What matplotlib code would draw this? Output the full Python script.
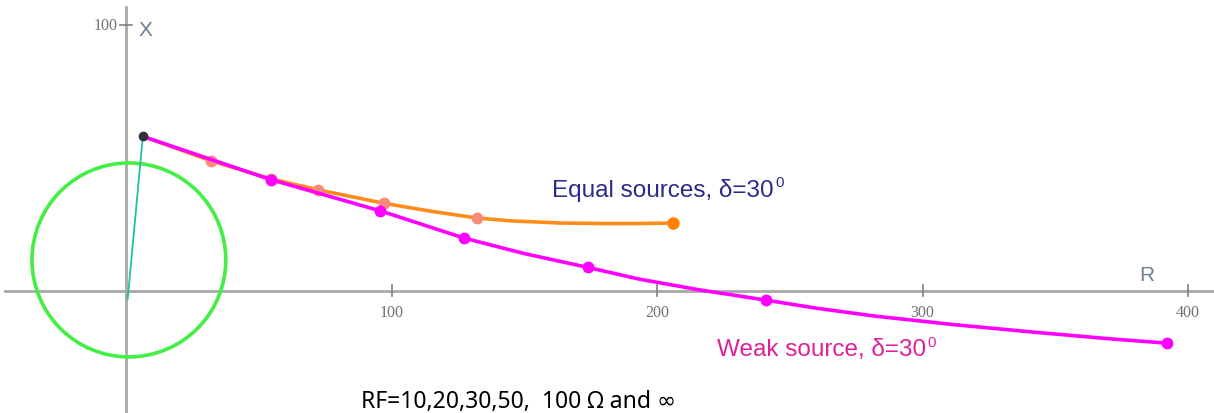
import matplotlib.pyplot as plt
from matplotlib.patches import Circle

# values (R, X)
start = (6.3, 58.1)
teal_from = (0.6, -3.1)

orange_r = [6.3, 32.0, 54.6, 72.2, 97.3, 115.0, 132.1, 145.0, 163.5, 180.0, 192.4, 206.1]
orange_x = [58.1, 48.9, 42.1, 38.0, 32.9, 29.9, 27.4, 26.3, 25.5, 25.3, 25.3, 25.5]
orange_pts_r = [32.0, 54.6, 72.2, 97.3, 132.1]
orange_pts_x = [48.9, 42.1, 38.0, 32.9, 27.4]
orange_end = (206.1, 25.5)

magenta_r = [6.3, 54.6, 95.7, 127.4, 150.0, 173.9, 193.2, 215.6, 240.9, 260.3,
             282.6, 312.4, 342.2, 372.0, 392.0]
magenta_x = [58.1, 41.8, 30.1, 19.8, 14.0, 8.8, 4.4, 0.4, -3.5, -6.6,
             -9.6, -12.8, -15.6, -18.2, -19.7]
magenta_pts_r = [54.6, 95.7, 127.4, 173.9, 240.9, 392.0]
magenta_pts_x = [41.8, 30.1, 19.8, 8.8, -3.5, -19.7]

circle_center = (1.05, 11.6)
circle_radius = 36.5

x_ticks = [100, 200, 300, 400]
y_ticks = [100]

fig = plt.figure(figsize=(12.14, 4.14), dpi=100)
ax = fig.add_axes([0, 0, 1, 1])
ax.set_xlim(-47.5, 409.8)
ax.set_ylim(-46.0, 109.8)
ax.axis('off')

# axes drawn by hand
gray = '#a8a8a8'
ax.plot([-45.5, 409.8], [0, 0], color=gray, lw=2, zorder=1)
ax.plot([0, 0], [-46, 106.8], color=gray, lw=2, zorder=1)
for t in x_ticks:
    ax.plot([t, t], [-2.0, 2.0], color='#808080', lw=1.2, zorder=1)
    ax.text(t, -8.0, str(t), ha='center', va='center', fontsize=11.5,
            family='Liberation Serif', color='#707070')
for t in y_ticks:
    ax.plot([-2.2, 2.2], [t, t], color='#808080', lw=1.2, zorder=1)
    ax.text(-3.0, t, str(t), ha='right', va='center', fontsize=11.5,
            family='Liberation Serif', color='#707070')
ax.text(4.8, 98.5, 'X', fontsize=15, color='#6a7f9a', va='center', ha='left',
        family='Liberation Sans')
ax.text(384.6, 6.2, 'R', fontsize=15, color='#6a7f9a', va='center', ha='center',
        family='Liberation Sans')

ax.add_patch(Circle(circle_center, circle_radius, fill=False,
                    edgecolor='#44ee44', lw=2.6, zorder=2))
ax.plot([teal_from[0], start[0]], [teal_from[1], start[1]],
        color='#20c0a0', lw=1.3, zorder=3)

ax.plot(orange_r, orange_x, color='#ff8c1a', lw=2.6, zorder=3,
        solid_capstyle='round', solid_joinstyle='round')
ax.plot(orange_pts_r, orange_pts_x, 'o', color='#f88a78', ms=7.5, zorder=4)
ax.plot(*orange_end, 'o', color='#ff8000', ms=8, zorder=4)

ax.plot(magenta_r, magenta_x, color='#ff00ff', lw=2.6, zorder=5,
        solid_capstyle='round', solid_joinstyle='round')
ax.plot(magenta_pts_r, magenta_pts_x, 'o', color='#ff00ff', ms=7.5, zorder=6)
ax.plot(*start, 'o', color='#303040', ms=6, zorder=7)

# labels with a raised small "0"
for s, xy, c in [('Equal sources, δ=30', (160.5, 38.2), '#2a2a8a'),
                 ('Weak source, δ=30', (222.5, -21.9), '#e0209a')]:
    t = ax.text(xy[0], xy[1], s, fontsize=17.5, color=c,
                family='Liberation Sans', va='center', ha='left')
    ax.annotate('0', xy=(1, 1), xycoords=t, xytext=(1, 2),
                textcoords='offset points', fontsize=11, color=c,
                family='Liberation Sans', va='top', ha='left')

ax.text(88.5, -41.4, 'RF=10,20,30,50,  100 Ω and ∞', fontsize=16.5, color='#000000',
        family=['Noto Sans', 'DejaVu Sans'], va='center', ha='left')

fig.savefig('out.png', dpi=100)
